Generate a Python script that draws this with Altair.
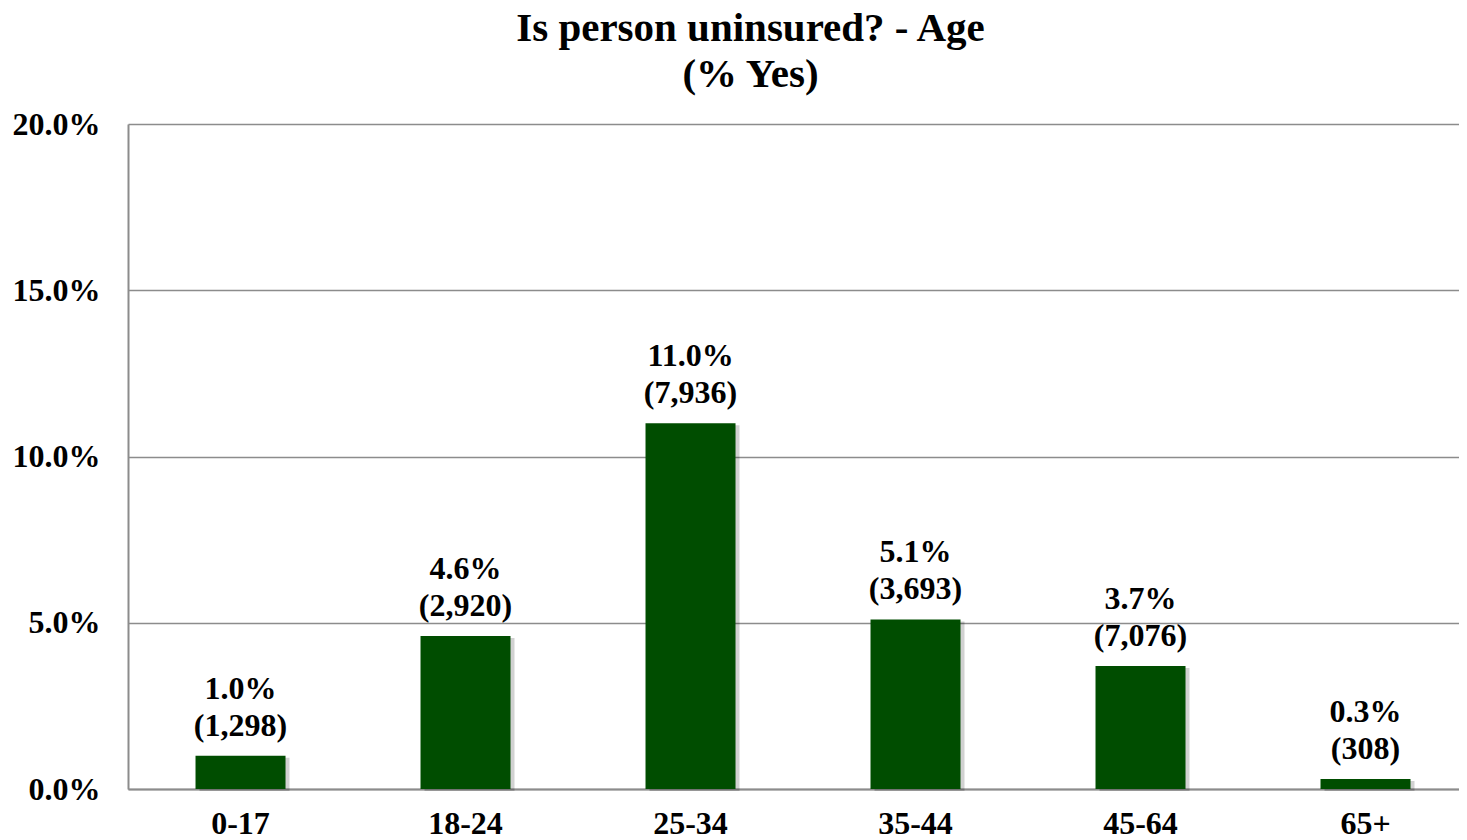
import altair as alt
import pandas as pd

ages = ["0-17", "18-24", "25-34", "35-44", "45-64", "65+"]
pct_yes = [1.0, 4.6, 11.0, 5.1, 3.7, 0.3]
counts = [1298, 2920, 7936, 3693, 7076, 308]

df = pd.DataFrame({
    "age": ages,
    "value": [p / 100 for p in pct_yes],
    "label": [f"{p:.1f}%\n({c:,})" for p, c in zip(pct_yes, counts)],
})

FONT = "Liberation Serif"
GREEN = "#004d00"
GRID = "#8c8c8c"

x = alt.X(
    "age:N", sort=ages, title=None,
    scale=alt.Scale(paddingInner=0.6, paddingOuter=0.2578, align=0.582),
    axis=alt.Axis(labelAngle=0, labelFont=FONT, labelFontSize=32, labelFontWeight="bold",
                  labelColor="black", ticks=False, tickSize=0, labelPadding=19,
                  domainColor=GRID, domainWidth=2, grid=False),
)
y = alt.Y(
    "value:Q", title=None,
    scale=alt.Scale(domain=[0, 0.2], nice=False),
    axis=alt.Axis(values=[0, 0.05, 0.1, 0.15, 0.2], format=".1%", labelFont=FONT,
                  labelFontSize=32, labelFontWeight="bold", labelColor="black",
                  ticks=False, tickSize=0, labelPadding=28, domainColor=GRID, domainWidth=2,
                  grid=True, gridColor=GRID, gridWidth=1.5),
)

base = alt.Chart(df)

shadow = base.mark_bar(color="#000000", opacity=0.18, xOffset=4, yOffset=2).encode(x=x, y=y)
bars = base.mark_bar(color=GREEN).encode(x=x, y=y)
labels = base.mark_text(
    font=FONT, fontSize=32, fontWeight="bold", color="black",
    baseline="bottom", dy=-50, lineBreak="\n", lineHeight=37,
).encode(x=x, y=y, text="label:N")

chart = (
    alt.layer(shadow, bars, labels)
    .properties(
        width=1331, height=665,
        padding={"left": 4, "top": 0, "right": 0, "bottom": 0},
        title=alt.Title(
            text=["Is person uninsured? - Age", "(% Yes)"],
            font=FONT, fontSize=41, fontWeight="bold", color="black",
            anchor="middle", dx=-43, lineHeight=46, offset=12,
        ),
    )
    .configure_view(strokeWidth=0)
)

chart.save("out.html", embed_options={"renderer": "svg", "actions": False})
